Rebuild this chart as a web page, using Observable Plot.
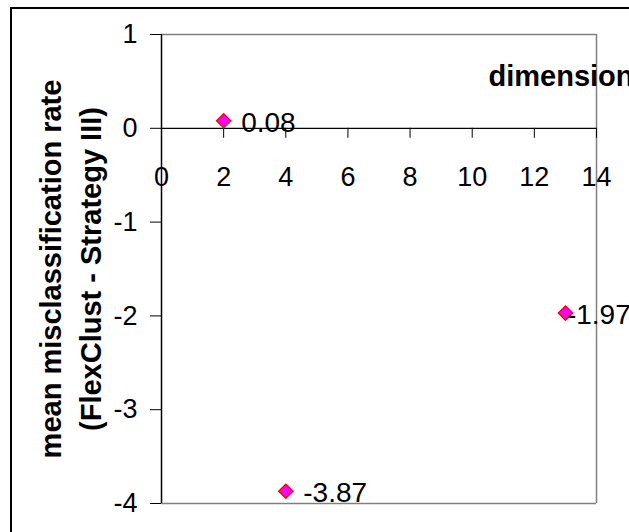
<!DOCTYPE html>
<html><head><meta charset="utf-8">
<script src="https://cdn.jsdelivr.net/npm/d3@7"></script>
<script src="https://cdn.jsdelivr.net/npm/@observablehq/plot@0.6"></script>
<style>
html,body{margin:0;padding:0;background:#fff;overflow:hidden;}
#wrap{position:relative;width:629px;height:532px;overflow:hidden;background:#fff;}
#border{position:absolute;left:10px;top:7px;width:700px;height:600px;border:2px solid #000;box-sizing:border-box;pointer-events:none;}
</style></head><body>
<div id="wrap"><div id="border"></div></div>
<script>
// data
const dims = [2, 4, 13];
const diffs = [0.08, -3.87, -1.97];
const xTicks = [0, 2, 4, 6, 8, 10, 12, 14];
const yTicks = [-4, -3, -2, -1, 0, 1];
const yTitle = ["mean misclassification rate", "(FlexClust - Strategy III)"];
const xTitle = "dimension";

const points = dims.map((x, i) => ({x, y: diffs[i], label: diffs[i].toFixed(2)}));
const font = "'Liberation Sans', Arial, Helvetica, sans-serif";
const fmt = d => String(d);

const chart = Plot.plot({
  width: 629, height: 532,
  marginLeft: 161, marginRight: 33, marginTop: 34, marginBottom: 29,
  style: {fontFamily: font, background: "transparent", color: "#000", overflow: "visible"},
  x: {domain: [0, 14], axis: null},
  y: {domain: [-4, 1], axis: null},
  marks: [
    Plot.ruleY([1, -4], {stroke: "#808080", strokeWidth: 1.5}),
    Plot.ruleX([14], {stroke: "#808080", strokeWidth: 1.5}),
    Plot.ruleX([0], {stroke: "#000", strokeWidth: 1.5}),
    Plot.ruleY([0], {stroke: "#000", strokeWidth: 1.2}),
    Plot.axisY(yTicks, {tickSize: 11, tickPadding: 13, fontSize: 27, label: null, tickFormat: fmt}),
    Plot.axisX(xTicks, {y: 0, tickSize: 10, tickPadding: 29, fontSize: 27, label: null, tickFormat: fmt}),
    Plot.dot(points, {x: "x", y: "y", symbol: "diamond2", r: 6.3, fill: "#ff00ff", stroke: "#ff0000", strokeWidth: 1.5}),
    Plot.text(points, {filter: d => d.x < 12, x: "x", y: "y", text: "label", textAnchor: "start", dx: 17.5, dy: 2, fontSize: 28}),
    Plot.text(points, {filter: d => d.x >= 12, x: "x", y: "y", text: "label", textAnchor: "start", dx: 1.5, dy: 2, fontSize: 28}),
    Plot.text([yTitle.join("\n")], {frameAnchor: "left", textAnchor: "middle", rotate: -90, dx: -93, fontSize: 29, fontWeight: "bold", lineHeight: 1.38}),
    Plot.text([xTitle], {frameAnchor: "top-right", textAnchor: "start", dx: -108, dy: 31, fontSize: 29, fontWeight: "bold"})
  ]
});
document.getElementById("wrap").prepend(chart);
</script>
</body></html>
